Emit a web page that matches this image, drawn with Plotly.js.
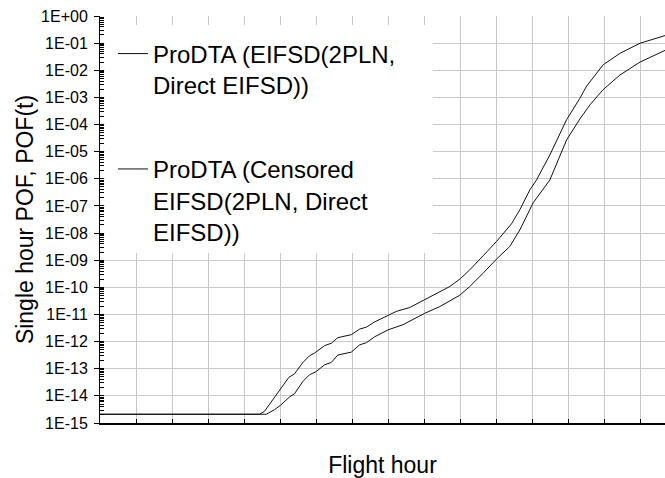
<!DOCTYPE html>
<html>
<head>
<meta charset="utf-8">
<script src="https://cdn.plot.ly/plotly-3.0.1.min.js"></script>
<style>
  html, body { margin: 0; padding: 0; background: #fff; }
  #chart { width: 665px; height: 478px; }
</style>
</head>
<body>
<div id="chart"></div>
<script>
// Flight hour in grid units (one vertical gridline per unit)
const hoursA = [0, 4.425, 4.564, 4.794, 5.0, 5.239, 5.397, 5.628, 5.814, 5.953, 6.231, 6.417, 6.6, 6.972, 7.203, 7.389, 7.619, 7.989, 8.222, 8.592, 8.961, 9.286, 9.703, 10.0, 10.258, 10.628, 11.0, 11.417, 11.647, 11.925, 12.111, 12.481, 12.944, 13.314, 13.5, 13.961, 14.425, 14.981, 15.675];
const pofA = [2.1e-15, 2.1e-15, 2.7e-15, 7.2e-15, 1.9e-14, 4.8e-14, 6.5e-14, 1.7e-13, 3.0e-13, 3.8e-13, 7.1e-13, 8.7e-13, 1.4e-12, 1.8e-12, 2.9e-12, 3.4e-12, 5.3e-12, 8.9e-12, 1.3e-11, 1.8e-11, 3.2e-11, 5.5e-11, 1.07e-10, 2.1e-10, 4.4e-10, 1.45e-9, 4.9e-9, 2.2e-8, 7.2e-8, 3.9e-7, 9.1e-7, 7.6e-6, 1.5e-4, 9.3e-4, 2.6e-3, 1.6e-2, 4.2e-2, 9.9e-2, 0.19];

const hoursB = [0, 4.611, 4.842, 5.0, 5.258, 5.397, 5.628, 5.814, 6.0, 6.231, 6.417, 6.6, 6.972, 7.203, 7.389, 7.619, 7.989, 8.406, 9.008, 9.425, 9.981, 10.258, 10.628, 11.0, 11.369, 11.647, 12.017, 12.481, 12.944, 13.314, 13.592, 13.953, 14.425, 14.981, 15.675];
const pofB = [2.1e-15, 2.1e-15, 3.1e-15, 4.4e-15, 9.1e-15, 1.2e-14, 3.4e-14, 6.0e-14, 7.9e-14, 1.4e-13, 1.7e-13, 3.2e-13, 4.1e-13, 7.6e-13, 9.1e-13, 1.5e-12, 2.7e-12, 4.2e-12, 1.1e-11, 1.95e-11, 5.1e-11, 1.07e-10, 3.3e-10, 1.1e-9, 3.2e-9, 1.3e-8, 1.3e-7, 9.1e-7, 2.7e-5, 1.6e-4, 5.3e-4, 1.9e-3, 6.7e-3, 2.0e-2, 5.4e-2];

const seriesNames = ["ProDTA (EIFSD(2PLN,<br>Direct EIFSD))", "ProDTA (Censored<br>EIFSD(2PLN, Direct<br>EIFSD))"];

const yTickVals = [1, 1e-1, 1e-2, 1e-3, 1e-4, 1e-5, 1e-6, 1e-7, 1e-8, 1e-9, 1e-10, 1e-11, 1e-12, 1e-13, 1e-14, 1e-15];
const yTickText = ["1E+00", "1E-01", "1E-02", "1E-03", "1E-04", "1E-05", "1E-06", "1E-07", "1E-08", "1E-09", "1E-10", "1E-11", "1E-12", "1E-13", "1E-14", "1E-15"];

const FONT = "'Liberation Sans', Arial, sans-serif";

const traces = [
  { x: hoursA, y: pofA, name: seriesNames[0], legendgroup: "a", type: "scatter", mode: "lines",
    line: { color: "#111", width: 1 } },
  // second series sits on an identical overlay axis that carries the small inside ticks
  { x: hoursB, y: pofB, name: seriesNames[1], legendgroup: "b", type: "scatter", mode: "lines",
    yaxis: "y2", line: { color: "#111", width: 1 } }
];

const layout = {
  width: 665, height: 478,
  margin: { l: 100, r: 0, t: 16, b: 55 },
  paper_bgcolor: "#fff", plot_bgcolor: "#fff",
  font: { family: FONT, color: "#000" },
  showlegend: true,
  legend: {
    x: 0.023, xanchor: "left", y: 0.962, yanchor: "top",
    bgcolor: "rgba(0,0,0,0)", borderwidth: 0,
    font: { family: FONT, size: 24, color: "#000" },
    valign: "top", tracegroupgap: 50, traceorder: "grouped"
  },
  xaxis: {
    range: [0, 15.675], tick0: 0, dtick: 1,
    showticklabels: false, ticks: "inside", ticklen: 4, tickcolor: "#000",
    showgrid: true, gridcolor: "#c8c8c8", gridwidth: 1,
    showline: true, linecolor: "#000", linewidth: 2, zeroline: false,
    title: { text: "Flight hour", font: { family: FONT, size: 23, color: "#000" }, standoff: 35 }
  },
  yaxis: {
    type: "log", range: [-15, 0],
    tickmode: "array", tickvals: yTickVals, ticktext: yTickText,
    ticks: "outside", ticklen: 5, tickcolor: "#000", ticklabelstandoff: 3,
    tickfont: { family: FONT, size: 16, color: "#000" },
    showgrid: true, gridcolor: "#c8c8c8", gridwidth: 1,
    showline: true, linecolor: "#000", linewidth: 1, zeroline: false,
    title: { text: "Single hour POF, POF(t)", font: { family: FONT, size: 23, color: "#000" }, standoff: 1 }
  },
  yaxis2: {
    type: "log", range: [-15, 0], overlaying: "y", side: "left", anchor: "x",
    tickmode: "linear", tick0: 0, dtick: 1,
    ticks: "inside", ticklen: 4, tickcolor: "#000",
    minor: { ticks: "inside", ticklen: 4, tickcolor: "#000", dtick: "D1", showgrid: false },
    showticklabels: false, showgrid: false, showline: false, zeroline: false
  },
  shapes: [
    { type: "rect", xref: "paper", yref: "paper", layer: "above",
      x0: 0.008, x1: 0.589, y0: 0.4177, y1: 0.978,
      fillcolor: "#fff", line: { width: 0 } }
  ]
};

Plotly.newPlot("chart", traces, layout, { displayModeBar: false, staticPlot: true });
</script>
</body>
</html>
